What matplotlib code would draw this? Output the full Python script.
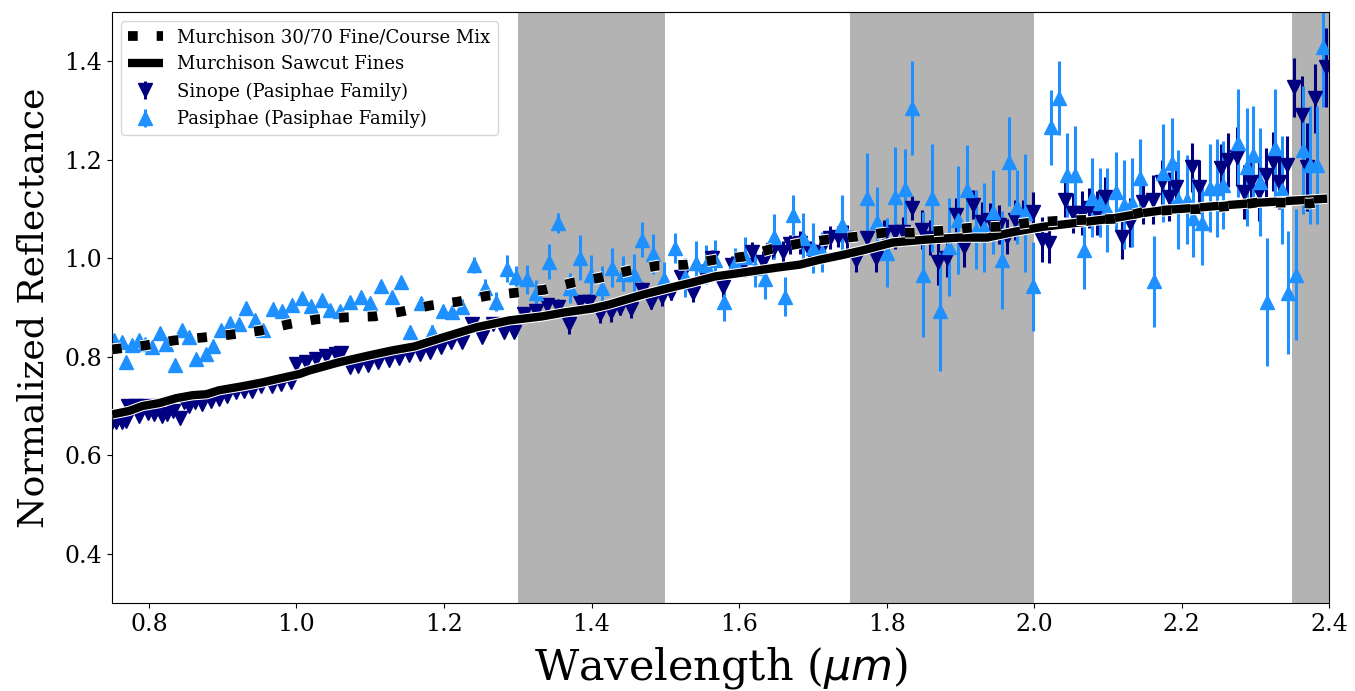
import numpy as np
import matplotlib
matplotlib.use("Agg")
import matplotlib.pyplot as plt
import matplotlib.patheffects as pe

plt.rcParams['font.family'] = ['DejaVu Serif']

# ---------------- data ----------------
mix_x = [0.750, 0.795, 0.833, 0.872, 0.911, 0.951, 0.989, 1.027, 1.066, 1.106, 1.143,
         1.181, 1.219, 1.259, 1.297, 1.336, 1.376, 1.413, 1.451, 1.490, 1.529, 1.567,
         1.605, 1.644, 1.682, 1.720, 1.760, 1.797, 1.835, 1.875, 1.913, 1.952, 1.992,
         2.031, 2.070, 2.108, 2.148, 2.186, 2.224, 2.263, 2.302, 2.340, 2.374, 2.400]
mix_y = [0.815, 0.823, 0.833, 0.839, 0.845, 0.853, 0.866, 0.876, 0.880, 0.882, 0.892,
         0.904, 0.912, 0.924, 0.930, 0.936, 0.951, 0.961, 0.975, 0.985, 0.987, 0.997,
         1.003, 1.019, 1.030, 1.038, 1.044, 1.052, 1.052, 1.056, 1.062, 1.064, 1.072,
         1.076, 1.078, 1.080, 1.094, 1.098, 1.100, 1.106, 1.113, 1.113, 1.111, 1.118]

saw_x = [0.750, 0.773, 0.791, 0.814, 0.837, 0.859, 0.878, 0.895, 0.926, 0.954, 0.977,
         1.004, 1.017, 1.058, 1.099, 1.130, 1.160, 1.198, 1.244, 1.289, 1.333, 1.363,
         1.401, 1.424, 1.469, 1.506, 1.537, 1.567, 1.605, 1.651, 1.682, 1.709, 1.741,
         1.770, 1.808, 1.854, 1.899, 1.936, 1.974, 2.012, 2.058, 2.103, 2.148, 2.177,
         2.215, 2.262, 2.306, 2.351, 2.397]
saw_y = [0.683, 0.690, 0.700, 0.706, 0.716, 0.722, 0.724, 0.732, 0.740, 0.748, 0.756,
         0.765, 0.772, 0.789, 0.803, 0.813, 0.821, 0.839, 0.860, 0.874, 0.882, 0.890,
         0.898, 0.906, 0.926, 0.940, 0.951, 0.963, 0.971, 0.981, 0.987, 0.997, 1.007,
         1.017, 1.032, 1.038, 1.042, 1.042, 1.054, 1.064, 1.072, 1.080, 1.092, 1.098,
         1.102, 1.108, 1.113, 1.117, 1.121]

sin_x = [0.750, 0.755, 0.764, 0.769, 0.772, 0.783, 0.787, 0.792, 0.799, 0.807, 0.811,
         0.818, 0.825, 0.833, 0.842, 0.848, 0.854, 0.863, 0.872, 0.884, 0.895, 0.906,
         0.918, 0.929, 0.940, 0.952, 0.967, 0.979, 0.992, 1.000, 1.013, 1.027, 1.040,
         1.054, 1.061, 1.072, 1.084, 1.097, 1.111, 1.126, 1.139, 1.153, 1.167, 1.181,
         1.196, 1.210, 1.225, 1.238, 1.252, 1.266, 1.281, 1.295, 1.309, 1.325, 1.339,
         1.354, 1.369, 1.384, 1.397, 1.411, 1.426, 1.439, 1.454, 1.468, 1.481, 1.495,
         1.508, 1.521, 1.537, 1.551, 1.563, 1.578, 1.591, 1.605, 1.618, 1.632, 1.646,
         1.659, 1.669, 1.682, 1.696, 1.709, 1.723, 1.734, 1.746, 1.759, 1.773, 1.785,
         1.797, 1.811, 1.822, 1.834, 1.848, 1.859, 1.869, 1.882, 1.894, 1.905, 1.917,
         1.929, 1.940, 1.952, 1.963, 1.974, 1.985, 1.998, 2.011, 2.020, 2.042, 2.053,
         2.065, 2.074, 2.085, 2.096, 2.119, 2.130, 2.148, 2.161, 2.173, 2.183, 2.192,
         2.214, 2.224, 2.253, 2.263, 2.275, 2.285, 2.294, 2.305, 2.314, 2.324, 2.332,
         2.343, 2.352, 2.363, 2.370, 2.381, 2.396]
sin_y = [0.667, 0.667, 0.667, 0.669, 0.700, 0.700, 0.679, 0.700, 0.685, 0.683, 0.700,
         0.679, 0.683, 0.689, 0.675, 0.708, 0.700, 0.708, 0.704, 0.710, 0.714, 0.720,
         0.728, 0.730, 0.730, 0.740, 0.740, 0.744, 0.748, 0.785, 0.789, 0.795, 0.801,
         0.805, 0.807, 0.779, 0.781, 0.783, 0.789, 0.793, 0.797, 0.803, 0.805, 0.809,
         0.819, 0.829, 0.829, 0.866, 0.841, 0.866, 0.851, 0.851, 0.886, 0.892, 0.906,
         0.902, 0.866, 0.912, 0.912, 0.886, 0.890, 0.900, 0.896, 0.936, 0.912, 0.922,
         0.930, 0.963, 0.930, 0.973, 1.001, 0.942, 0.987, 0.987, 1.013, 0.993, 1.017,
         1.013, 1.028, 1.032, 1.013, 1.013, 1.042, 1.044, 1.042, 0.997, 1.042, 1.001,
         1.048, 1.054, 1.054, 1.102, 1.058, 1.042, 0.993, 1.001, 1.088, 1.023, 1.109,
         1.074, 1.078, 1.068, 1.044, 1.078, 1.084, 1.094, 1.038, 1.032, 1.119, 1.092,
         1.092, 1.102, 1.092, 1.125, 1.044, 1.072, 1.115, 1.119, 1.155, 1.125, 1.145,
         1.185, 1.145, 1.183, 1.200, 1.206, 1.135, 1.155, 1.135, 1.169, 1.196, 1.155,
         1.189, 1.347, 1.291, 1.185, 1.325, 1.388]
sin_err = [0.004, 0.004, 0.004, 0.004, 0.004, 0.004, 0.004, 0.004, 0.004, 0.004, 0.004,
           0.004, 0.004, 0.004, 0.005, 0.005, 0.005, 0.005, 0.005, 0.005, 0.005, 0.005,
           0.005, 0.005, 0.005, 0.005, 0.005, 0.005, 0.005, 0.006, 0.006, 0.006, 0.006,
           0.006, 0.006, 0.006, 0.006, 0.006, 0.006, 0.006, 0.006, 0.006, 0.007, 0.007,
           0.007, 0.008, 0.008, 0.008, 0.009, 0.009, 0.010, 0.010, 0.012, 0.012, 0.014,
           0.015, 0.020, 0.014, 0.016, 0.018, 0.020, 0.016, 0.018, 0.016, 0.015, 0.018,
           0.014, 0.016, 0.018, 0.015, 0.016, 0.020, 0.018, 0.016, 0.020, 0.022, 0.018,
           0.022, 0.020, 0.024, 0.022, 0.020, 0.024, 0.022, 0.025, 0.024, 0.030, 0.028,
           0.030, 0.035, 0.030, 0.024, 0.040, 0.035, 0.047, 0.040, 0.035, 0.040, 0.030,
           0.040, 0.035, 0.040, 0.035, 0.040, 0.035, 0.040, 0.045, 0.042, 0.035, 0.040,
           0.045, 0.040, 0.045, 0.040, 0.045, 0.050, 0.045, 0.050, 0.045, 0.050, 0.050,
           0.050, 0.055, 0.050, 0.055, 0.060, 0.055, 0.050, 0.060, 0.055, 0.060, 0.055,
           0.060, 0.060, 0.080, 0.090, 0.070, 0.080]

pas_x = [0.753, 0.764, 0.769, 0.777, 0.787, 0.795, 0.804, 0.815, 0.823, 0.835, 0.845,
         0.854, 0.864, 0.878, 0.887, 0.898, 0.910, 0.922, 0.932, 0.944, 0.954, 0.968,
         0.981, 0.994, 1.008, 1.020, 1.034, 1.046, 1.059, 1.073, 1.088, 1.100, 1.115,
         1.129, 1.142, 1.154, 1.169, 1.184, 1.198, 1.211, 1.225, 1.241, 1.256, 1.270,
         1.285, 1.298, 1.313, 1.325, 1.342, 1.355, 1.371, 1.385, 1.399, 1.414, 1.428,
         1.442, 1.457, 1.469, 1.483, 1.498, 1.513, 1.526, 1.541, 1.555, 1.567, 1.580,
         1.594, 1.608, 1.621, 1.635, 1.647, 1.662, 1.673, 1.686, 1.700, 1.713, 1.739,
         1.774, 1.787, 1.800, 1.812, 1.825, 1.835, 1.849, 1.861, 1.872, 1.884, 1.897,
         1.909, 1.921, 1.932, 1.944, 1.956, 1.966, 1.977, 1.987, 1.998, 2.023, 2.034,
         2.044, 2.055, 2.068, 2.078, 2.089, 2.099, 2.111, 2.122, 2.133, 2.144, 2.162,
         2.175, 2.187, 2.195, 2.207, 2.215, 2.228, 2.238, 2.248, 2.256, 2.276, 2.289,
         2.297, 2.306, 2.316, 2.327, 2.336, 2.344, 2.355, 2.365, 2.374, 2.384, 2.392]
pas_y = [0.835, 0.831, 0.789, 0.823, 0.835, 0.825, 0.819, 0.849, 0.825, 0.783, 0.855,
         0.841, 0.795, 0.805, 0.821, 0.855, 0.868, 0.866, 0.900, 0.874, 0.855, 0.896,
         0.892, 0.906, 0.920, 0.904, 0.916, 0.894, 0.892, 0.912, 0.922, 0.910, 0.943,
         0.922, 0.951, 0.851, 0.910, 0.851, 0.892, 0.890, 0.902, 0.987, 0.940, 0.912,
         0.979, 0.963, 0.957, 0.930, 0.993, 1.072, 0.940, 1.001, 0.967, 0.940, 0.981,
         0.969, 0.969, 1.038, 1.009, 0.957, 1.021, 0.961, 0.991, 0.987, 0.997, 0.912,
         0.991, 1.003, 0.981, 0.957, 1.044, 0.922, 1.088, 1.042, 1.021, 1.013, 1.068,
         1.123, 1.074, 1.011, 1.125, 1.141, 1.305, 0.967, 1.123, 0.892, 1.023, 1.078,
         1.139, 1.058, 1.062, 1.094, 0.997, 1.196, 1.104, 1.092, 0.943, 1.266, 1.325,
         1.169, 1.169, 1.017, 1.123, 1.113, 1.098, 1.135, 1.109, 1.113, 1.163, 0.953,
         1.173, 1.194, 1.119, 1.119, 1.082, 1.072, 1.143, 1.143, 1.149, 1.234, 1.185,
         1.210, 1.155, 0.912, 1.224, 1.139, 0.930, 0.967, 1.220, 1.189, 1.189, 1.428]
pas_err = [0.008, 0.008, 0.008, 0.008, 0.008, 0.008, 0.008, 0.008, 0.008, 0.008, 0.008,
           0.008, 0.008, 0.008, 0.008, 0.008, 0.008, 0.008, 0.009, 0.009, 0.009, 0.009,
           0.009, 0.009, 0.009, 0.009, 0.009, 0.010, 0.010, 0.010, 0.010, 0.010, 0.011,
           0.011, 0.012, 0.012, 0.012, 0.013, 0.013, 0.014, 0.015, 0.016, 0.018, 0.020,
           0.027, 0.022, 0.030, 0.025, 0.035, 0.020, 0.030, 0.046, 0.040, 0.045, 0.040,
           0.035, 0.040, 0.035, 0.040, 0.035, 0.030, 0.040, 0.045, 0.040, 0.040, 0.040,
           0.030, 0.040, 0.040, 0.040, 0.045, 0.040, 0.040, 0.050, 0.050, 0.040, 0.060,
           0.090, 0.070, 0.070, 0.100, 0.080, 0.096, 0.126, 0.110, 0.120, 0.100, 0.110,
           0.090, 0.080, 0.090, 0.085, 0.100, 0.090, 0.075, 0.120, 0.090, 0.076, 0.075,
           0.085, 0.100, 0.080, 0.080, 0.070, 0.085, 0.080, 0.090, 0.090, 0.080, 0.093,
           0.100, 0.090, 0.100, 0.090, 0.080, 0.085, 0.090, 0.100, 0.090, 0.110, 0.120,
           0.100, 0.110, 0.130, 0.120, 0.110, 0.125, 0.133, 0.130, 0.120, 0.120, 0.120]

bands = [(1.30, 1.50), (1.75, 2.00), (2.35, 2.40)]

xticks = [0.8, 1.0, 1.2, 1.4, 1.6, 1.8, 2.0, 2.2, 2.4]
yticks = [0.4, 0.6, 0.8, 1.0, 1.2, 1.4]

# ---------------- figure ----------------
fig = plt.figure(figsize=(13.55, 6.91), dpi=100)
ax = fig.add_axes([0.0827, 0.1273, 0.8983, 0.8553])

for lo, hi in bands:
    ax.axvspan(lo, hi, color='0.7', lw=0, zorder=0)

ax.errorbar(sin_x, sin_y, yerr=sin_err, fmt='v', color='navy', ms=10, elinewidth=2.2,
            capsize=0, zorder=2, label='Sinope (Pasiphae Family)')
ax.errorbar(pas_x, pas_y, yerr=pas_err, fmt='^', color='dodgerblue', ms=10, elinewidth=2.2,
            capsize=0, zorder=2, label='Pasiphae (Pasiphae Family)')

l2, = ax.plot(saw_x, saw_y, color='black', lw=6, solid_capstyle='butt', zorder=3,
              label='Murchison Sawcut Fines',
              path_effects=[pe.Stroke(linewidth=7.5, foreground='white'), pe.Normal()])
l1, = ax.plot(mix_x, mix_y, color='black', lw=7, linestyle=(0, (1, 1.95)), zorder=4,
              label='Murchison 30/70 Fine/Course Mix',
              path_effects=[pe.Stroke(linewidth=8.5, foreground='white'), pe.Normal()])

ax.set_xlim(0.75, 2.4)
ax.set_ylim(0.3, 1.5)
ax.set_xticks(xticks)
ax.set_yticks(yticks)
ax.set_xticklabels([f'{t:.1f}' for t in xticks])
ax.set_yticklabels([f'{t:.1f}' for t in yticks])
ax.tick_params(labelsize=17)
ax.set_xlabel(r'Wavelength ($\mu m$)', fontsize=31, labelpad=7)
ax.set_ylabel('Normalized Reflectance', fontsize=26, labelpad=10)

handles, labels = ax.get_legend_handles_labels()
order = [labels.index('Murchison 30/70 Fine/Course Mix'),
         labels.index('Murchison Sawcut Fines'),
         labels.index('Sinope (Pasiphae Family)'),
         labels.index('Pasiphae (Pasiphae Family)')]
leg = ax.legend([handles[i] for i in order], [labels[i] for i in order],
                loc='upper left', fontsize=13, borderaxespad=0.5, handlelength=1.9)
for h in leg.legend_handles[:2]:
    h.set_path_effects([])

fig.savefig('out.png', dpi=100)
